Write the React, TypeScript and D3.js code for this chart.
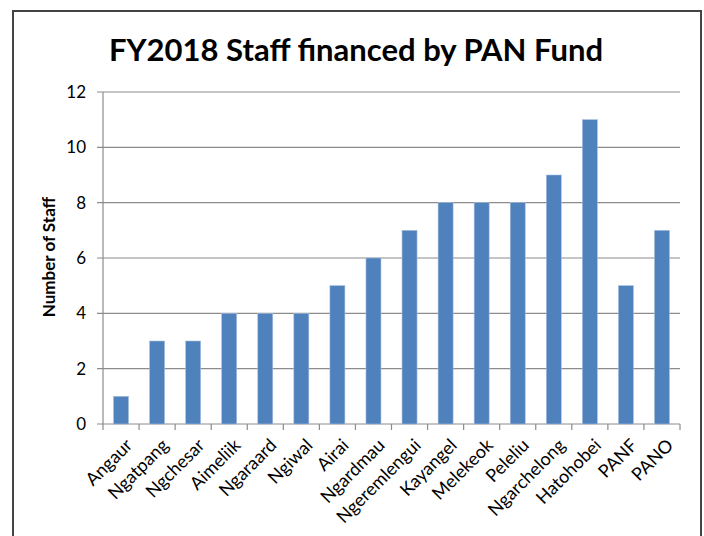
import React from "react";
import * as d3 from "d3";

const categories = ["Angaur","Ngatpang","Ngchesar","Aimeliik","Ngaraard","Ngiwal","Airai","Ngardmau","Ngeremlengui","Kayangel","Melekeok","Peleliu","Ngarchelong","Hatohobei","PANF","PANO"];
const values = [1,3,3,4,4,4,5,6,7,8,8,8,9,11,5,7];
const yTicks = [0,2,4,6,8,10,12];
const title = "FY2018 Staff financed by PAN Fund";
const yTitle = "Number of Staff";

export default function App() {
  const W = 704, H = 536;
  const left = 103, right = 680, top = 92, bottom = 424;
  const x = d3.scaleBand().domain(categories).range([left, right]).paddingInner(0).paddingOuter(0);
  const y = d3.scaleLinear().domain([0, 12]).range([bottom, top]);
  const barW = 15;
  const font = "Lato, 'Open Sans', sans-serif";
  return (
    <svg width={W} height={H} style={{ position: "absolute", left: 0, top: 0, background: "#fff" }}>
      <rect x={0} y={0} width={W} height={H} fill="#fff" />
      <path d={`M13,${H} V11 H701 V${H}`} fill="none" stroke="#444" strokeWidth={2} />
      <text x={356} y={61} textAnchor="middle" fontFamily={font} fontWeight="bold" fontSize={31} fill="#000">{title}</text>
      {yTicks.map(t => (
        <g key={t}>
          <line x1={left - 6} x2={right} y1={y(t)} y2={y(t)} stroke="#8c8c8c" strokeWidth={1.2} />
          <text x={86} y={y(t)} dy="0.36em" textAnchor="end" fontFamily={font} fontSize={17} fill="#000">{t}</text>
        </g>
      ))}
      <line x1={left} x2={left} y1={top} y2={bottom + 6} stroke="#8c8c8c" strokeWidth={1.2} />
      {categories.map((c) => (
        <line key={"t" + c} x1={x(c)! + x.bandwidth()} x2={x(c)! + x.bandwidth()} y1={bottom} y2={bottom + 6} stroke="#8c8c8c" strokeWidth={1.2} />
      ))}
      {categories.map((c, i) => (
        <rect key={c} x={x(c)! + x.bandwidth() / 2 - barW / 2} y={y(values[i])} width={barW} height={bottom - y(values[i])} fill="#4f81bd" stroke="#a7bfde" strokeWidth={0.6} />
      ))}
      {categories.map((c) => {
        const cx = x(c)! + x.bandwidth() / 2 + 8;
        const cy = bottom + 18;
        return (
          <text key={"l" + c} transform={`translate(${cx},${cy}) rotate(-45)`} textAnchor="end" dy="0.35em" fontFamily={font} fontSize={18} fill="#000">{c}</text>
        );
      })}
      <text transform={`translate(55,${257}) rotate(-90)`} textAnchor="middle" fontFamily={font} fontWeight="bold" fontSize={17} fill="#000">{yTitle}</text>
    </svg>
  );
}
